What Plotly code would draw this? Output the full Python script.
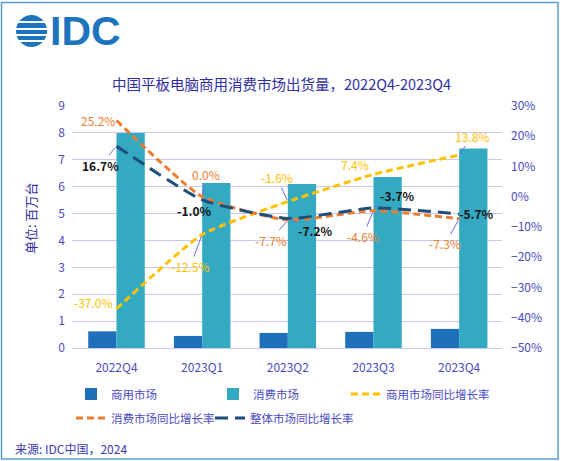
import plotly.graph_objects as go

# Data
quarters = ["2022Q4", "2023Q1", "2023Q2", "2023Q3", "2023Q4"]
commercial = [0.62, 0.45, 0.56, 0.60, 0.71]      # 百万台
consumer = [8.0, 6.14, 6.1, 6.36, 7.42]          # 百万台
commercial_yoy = [-37.0, -12.5, -1.6, 7.4, 13.8]  # %
consumer_yoy = [25.2, 0.0, -7.7, -4.6, -7.3]      # %
total_yoy = [16.7, -1.0, -7.2, -3.7, -5.7]        # %

W, H = 563, 461
L, R, T, B = 72, 61, 106, 113
FONT = "Noto Sans CJK SC"
C_BAR1 = "#1F6FBA"
C_BAR2 = "#33A9C2"
C_YEL = "#FFC000"
C_ORA = "#ED7D31"
C_NAVY = "#1F4E79"
C_TXT = "#4A4AC4"
C_LEAD = "#6A6AE8"


def px(x):
    return (x - L) / (W - L - R)


def py(y):
    return (H - B - y) / (H - T - B)


fig = go.Figure()
fig.add_trace(go.Bar(x=quarters, y=commercial, name="商用市场",
                     marker_color=C_BAR1, marker_line_width=0,
                     legend="legend", legendwidth=97))
fig.add_trace(go.Bar(x=quarters, y=consumer, name="消费市场",
                     marker_color=C_BAR2, marker_line_width=0,
                     legend="legend", legendwidth=88))
fig.add_trace(go.Scatter(x=quarters, y=commercial_yoy, name="商用市场同比增长率",
                         yaxis="y2", mode="lines", legend="legend", legendwidth=110,
                         line=dict(color=C_YEL, width=3, dash="7px,4px",
                                   shape="spline", smoothing=0.5)))
fig.add_trace(go.Scatter(x=quarters, y=consumer_yoy, name="消费市场同比增长率",
                         yaxis="y2", mode="lines", legend="legend2", legendwidth=94,
                         line=dict(color=C_ORA, width=3, dash="7px,4px",
                                   shape="spline", smoothing=0.5)))
fig.add_trace(go.Scatter(x=quarters, y=total_yoy, name="整体市场同比增长率",
                         yaxis="y2", mode="lines", legend="legend2", legendwidth=110,
                         line=dict(color=C_NAVY, width=3, dash="13px,7px",
                                   shape="spline", smoothing=0.5)))

# label offsets (pixels, dx right, dy down) and whether a leader line is drawn
label_sets = [
    (commercial_yoy, C_YEL, False,
     [(-23, -6, False), (-12, 32, True), (-11, -24, True), (-19, -10, False), (13, -19, True)]),
    (consumer_yoy, C_ORA, False,
     [(-19, 0, False), (4, -22, True), (-17, 20, True), (-11, 26, True), (-14, 25, True)]),
    (total_yoy, "#111111", True,
     [(-16, 19, True), (-8, 11, False), (28, 12, True), (24, -12, True), (17, 0, False)]),
]
annotations = []
for values, color, bold, offsets in label_sets:
    for q, v, (dx, dy, lead) in zip(quarters, values, offsets):
        text = f"{v:.1f}%"
        if bold:
            text = f"<b>{text}</b>"
        a = dict(x=q, y=v, xref="x", yref="y2", text=text,
                 font=dict(family=FONT, size=12, color=color))
        if lead:
            a.update(showarrow=True, ax=dx, ay=dy, arrowhead=0,
                     arrowwidth=1, arrowcolor=C_LEAD, standoff=2)
        else:
            a.update(showarrow=False, xshift=dx, yshift=-dy)
        annotations.append(a)

# y-axis title, logo text, source
annotations += [
    dict(xref="paper", yref="paper", x=px(30), y=py(218), text="单位: 百万台",
         xanchor="center", yanchor="middle", textangle=-90, showarrow=False,
         font=dict(family=FONT, size=13, color="#2E2EA0")),
    dict(xref="paper", yref="paper", x=px(48), y=py(31), xanchor="left",
         yanchor="middle", text="<b>IDC</b>", showarrow=False,
         font=dict(family="Liberation Sans", size=41, color="#1C75BC")),
    dict(xref="paper", yref="paper", x=px(13), y=py(448), xanchor="left",
         yanchor="middle", text="来源: IDC中国，2024", showarrow=False,
         font=dict(family=FONT, size=12, color="#3A3AB0")),
]

# globe part of the logo
shapes = [
    dict(type="circle", xref="paper", yref="paper",
         x0=px(16), x1=px(47), y0=py(47), y1=py(15),
         fillcolor="#1C75BC", line_width=0, layer="above"),
]
for gy in [22, 29, 35, 41]:
    shapes.append(dict(type="line", xref="paper", yref="paper",
                       x0=px(12), x1=px(50), y0=py(gy), y1=py(gy),
                       line=dict(color="white", width=2), layer="above"))
# frame around the picture
shapes.append(dict(type="rect", xref="paper", yref="paper",
                   x0=px(1.5), x1=px(558), y0=py(459), y1=py(2.5),
                   line=dict(color="#5B9BD5", width=1.5), layer="above"))

legend_style = dict(orientation="h", xanchor="left", yanchor="middle",
                    entrywidthmode="pixels", traceorder="normal",
                    font=dict(size=11.5, color=C_TXT), bgcolor="rgba(0,0,0,0)")

fig.update_layout(
    width=W, height=H,
    margin=dict(l=L, r=R, t=T, b=B),
    paper_bgcolor="white", plot_bgcolor="white",
    font=dict(family=FONT, size=12, color=C_TXT),
    title=dict(text="中国平板电脑商用消费市场出货量，2022Q4-2023Q4",
               x=0.5, xref="container", y=1 - 85 / H, yanchor="middle",
               font=dict(family=FONT, size=14.5, color="#2E2EA0")),
    barmode="group", bargap=0.34, bargroupgap=0,
    xaxis=dict(showgrid=False, showline=True, linecolor="#C8C8F0", linewidth=1,
               ticks="", tickfont=dict(size=12, color=C_TXT), ticklabelstandoff=9),
    yaxis=dict(range=[0, 9], dtick=1, showgrid=True, gridcolor="#C8C8F0",
               gridwidth=1, zeroline=False, showline=False,
               tickfont=dict(size=12, color=C_TXT), ticklabelstandoff=6),
    yaxis2=dict(range=[-50, 30], dtick=10, overlaying="y", side="right",
                showgrid=False, zeroline=False, ticksuffix="%",
                tickfont=dict(size=12, color=C_TXT), ticklabelstandoff=8),
    legend=dict(x=px(71), y=py(394), **legend_style),
    legend2=dict(x=px(71), y=py(418), **legend_style),
    annotations=annotations,
    shapes=shapes,
)

fig.write_html("out.html", config={"displayModeBar": False},
               post_script="document.body.style.margin='0';")
